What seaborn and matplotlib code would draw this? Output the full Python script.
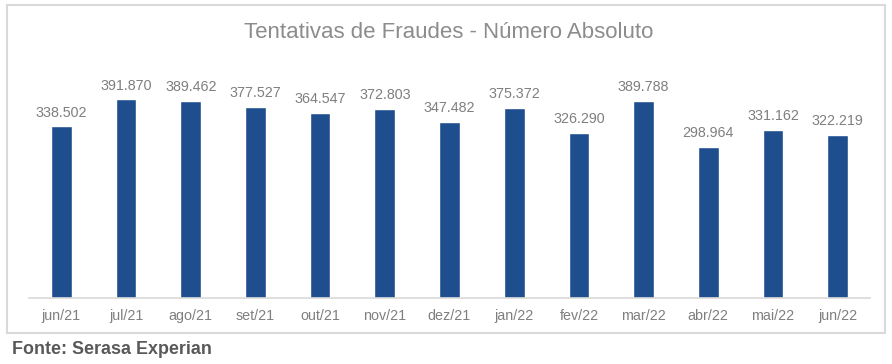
import matplotlib
matplotlib.use("Agg")
import matplotlib.pyplot as plt
import seaborn as sns
import pandas as pd
from matplotlib.patches import Rectangle

months = ["jun/21", "jul/21", "ago/21", "set/21", "out/21", "nov/21", "dez/21",
          "jan/22", "fev/22", "mar/22", "abr/22", "mai/22", "jun/22"]
values = [338502, 391870, 389462, 377527, 364547, 372803, 347482,
          375372, 326290, 389788, 298964, 331162, 322219]

title = "Tentativas de Fraudes - Número Absoluto"
source = "Fonte: Serasa Experian"

sns.set_theme(style="white")
plt.rcParams['font.family'] = ['Liberation Sans', 'DejaVu Sans']

df = pd.DataFrame({"mes": months, "valor": values})

fig = plt.figure(figsize=(8.92, 3.64), dpi=100)
ax = fig.add_axes([29/892, (364-298)/364, (870-29)/892, (298-70)/364])

sns.barplot(data=df, x="mes", y="valor", color="#1f4e8f", width=0.32,
            saturation=1, ax=ax)

def fmt(v):
    return f"{v:,}".replace(",", ".")

for i, v in enumerate(values):
    ax.annotate(fmt(v), (i, v), xytext=(0, 5), textcoords="offset points",
                ha="center", va="bottom", fontsize=10.3, color="#7f7f7f")

ax.set_ylim(0, 450000)
ax.set_xlim(-0.5, len(months) - 0.5)
ax.set_yticks([])
ax.set_xlabel("")
ax.set_ylabel("")
for s in ["top", "right", "left"]:
    ax.spines[s].set_visible(False)
ax.spines["bottom"].set_color("#d9d9d9")
ax.spines["bottom"].set_linewidth(1.2)
ax.tick_params(axis="x", length=0, pad=8, labelsize=10.3, labelcolor="#7f7f7f")

fig.text(449/892, 1 - 32/364, title, ha="center", va="center",
         fontsize=16, color="#8c8c8c")

fig.patches.append(Rectangle((7/892, 1 - 333/364), (885-7)/892, (333-5)/364,
                             transform=fig.transFigure, fill=False,
                             edgecolor="#d9d9d9", linewidth=1.5))

fig.text(12/892, 1 - 350/364, source, ha="left", va="center",
         fontsize=12.9, fontweight="bold", color="#595959")

fig.savefig("out.png", dpi=100)
